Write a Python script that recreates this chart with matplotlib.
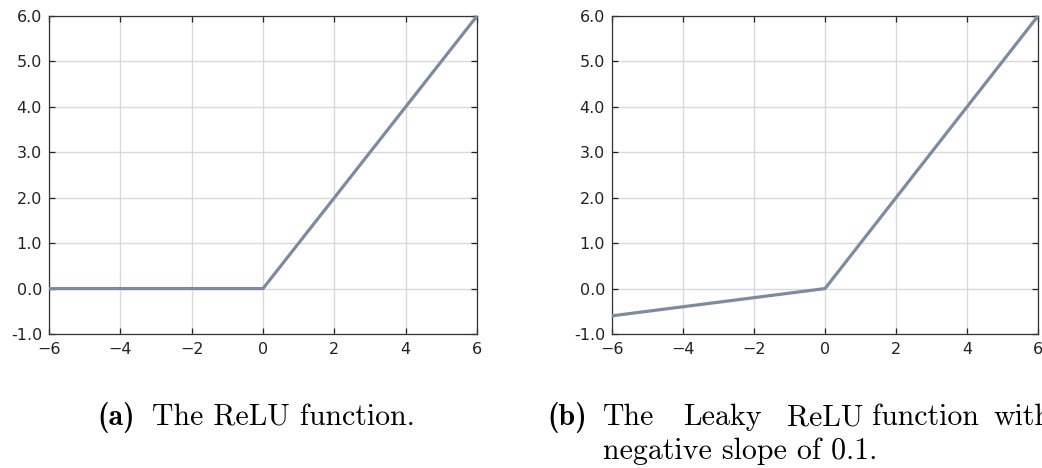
import matplotlib
matplotlib.use("Agg")
import matplotlib.pyplot as plt

x_vals = [-6, 0, 6]
relu_vals = [0, 0, 6]
leaky_vals = [-0.6, 0, 6]
x_ticks = [-6, -4, -2, 0, 2, 4, 6]
y_ticks = [-1.0, 0.0, 1.0, 2.0, 3.0, 4.0, 5.0, 6.0]
y_tick_labels = ["-1.0", "0.0", "1.0", "2.0", "3.0", "4.0", "5.0", "6.0"]

W, H = 1042, 468
fig = plt.figure(figsize=(W / 100, H / 100), dpi=100)
fig.patch.set_facecolor("white")

line_color = "#7d8ba2"

def make_ax(rect, yvals):
    ax = fig.add_axes(rect)
    ax.plot(x_vals, yvals, color=line_color, lw=2.3, solid_capstyle="butt", clip_on=False, zorder=3)
    ax.set_xlim(-6, 6)
    ax.set_ylim(-1, 6)
    ax.set_xticks(x_ticks)
    ax.set_yticks(y_ticks)
    ax.set_yticklabels(y_tick_labels)
    ax.grid(True, color="#d9d9d9", lw=1.0)
    ax.set_axisbelow(True)
    ax.tick_params(direction="in", length=4.5, width=0.9, top=True, right=True,
                   labelsize=11.5, colors="#222222")
    ax.tick_params(axis="y", pad=5)
    ax.tick_params(axis="x", pad=6)
    for s in ax.spines.values():
        s.set_color("#333333")
        s.set_linewidth(0.9)
    return ax

ax1 = make_ax([49 / W, (H - 334) / H, 428 / W, 318 / H], relu_vals)
ax2 = make_ax([612 / W, (H - 334) / H, 426 / W, 318 / H], leaky_vals)

cap_size = 21.5
base1 = 1 - 425 / H
base2 = 1 - 459 / H
# caption (a)
fig.text(97 / W, base1, "(a)", family="cmb10", fontsize=cap_size, va="baseline", ha="left")
fig.text(152 / W, base1, "The ReLU function.", family="cmr10", fontsize=cap_size, va="baseline", ha="left")

# caption (b), justified first line
fig.text(547 / W, base1, "(b)", family="cmb10", fontsize=cap_size, va="baseline", ha="left")
words_b = ["The", "Leaky", "ReLU", "function", "with"]
word_x = [603, 683, 787, 872, 993]
for w, xp in zip(words_b, word_x):
    fig.text(xp / W, base1, w, family="cmr10", fontsize=cap_size, va="baseline", ha="left")
fig.text(603 / W, base2, "negative slope of 0.1.", family="cmr10", fontsize=cap_size, va="baseline", ha="left")

fig.savefig("out.png", dpi=100)
